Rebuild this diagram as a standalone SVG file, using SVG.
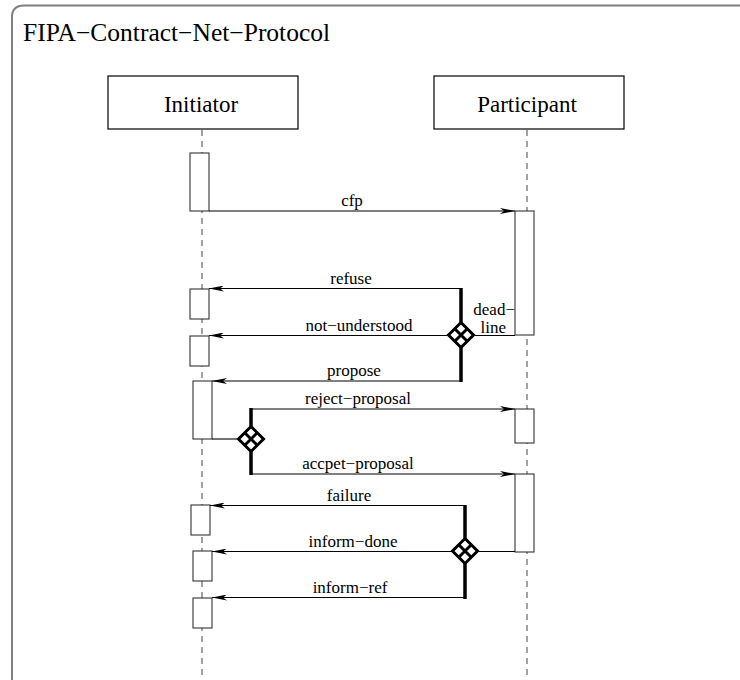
<svg xmlns="http://www.w3.org/2000/svg" width="740" height="680" viewBox="0 0 740 680">
  <style>
    text { font-family: "Liberation Serif", "Times New Roman", serif; fill: #000; }
    .title { font-size: 25.5px; }
    .role { font-size: 23px; text-anchor: middle; }
    .lbl { font-size: 17px; text-anchor: middle; }
    .frame { fill: none; stroke: #808080; stroke-width: 2; }
    .box { fill: #fff; stroke: #000; stroke-width: 1.2; }
    .life { fill: none; stroke: #444; stroke-width: 1; stroke-dasharray: 6 5; }
    .bar { fill: #fff; stroke: #333; stroke-width: 1.1; }
    .msg { fill: none; stroke: #000; stroke-width: 1.1; }
    .arr { fill: none; stroke: #000; stroke-width: 1.1; marker-end: url(#head); }
    .thick { fill: none; stroke: #000; stroke-width: 3.5; }
    .xor { fill: #fff; stroke: #000; stroke-width: 3; stroke-linejoin: miter; }
    .xin { fill: none; stroke: #000; stroke-width: 3; }
  </style>
  <defs>
    <marker id="head" viewBox="0 0 15 6" refX="15" refY="3" markerWidth="15" markerHeight="6" markerUnits="userSpaceOnUse" orient="auto">
      <path d="M0,0 L15,3 L0,6 L4,3 Z" fill="#000"/>
    </marker>
    <!-- XOR connector: diamond split into four -->
    <g id="xorDiamond">
      <path class="xor" d="M0,-12.5 L12.5,0 L0,12.5 L-12.5,0 Z"/>
      <path class="xin" d="M-6.25,-6.25 L6.25,6.25 M6.25,-6.25 L-6.25,6.25"/>
    </g>
  </defs>

  <!-- outer frame -->
  <path class="frame" d="M12,690 L12,17 Q12,5.5 24,5.5 L742,5.5"/>
  <text class="title" x="23" y="41">FIPA−Contract−Net−Protocol</text>

  <!-- lifelines -->
  <g id="lifelines">
    <path class="life" d="M202,130 L202,680"/>
    <path class="life" d="M527,130 L527,680"/>
  </g>

  <g id="initiator">
    <rect class="box" x="108" y="76" width="190" height="53"/>
    <text class="role" x="201" y="112">Initiator</text>
  </g>
  <g id="participant">
    <rect class="box" x="434" y="76" width="190" height="53"/>
    <text class="role" x="527" y="112">Participant</text>
  </g>

  <!-- activation bars -->
  <g id="activations">
    <rect class="bar" x="190" y="153" width="19" height="58"/>
    <rect class="bar" x="515" y="211" width="19" height="124"/>
    <rect class="bar" x="190" y="289" width="19" height="30"/>
    <rect class="bar" x="190" y="336" width="19" height="30"/>
    <rect class="bar" x="193" y="381" width="19" height="58"/>
    <rect class="bar" x="515" y="409" width="19" height="34"/>
    <rect class="bar" x="515" y="474" width="19" height="78"/>
    <rect class="bar" x="191" y="505" width="19" height="30"/>
    <rect class="bar" x="193" y="551" width="19" height="30"/>
    <rect class="bar" x="193" y="598" width="19" height="30"/>
  </g>

  <!-- messages -->
  <g id="connectors">
    <path class="arr" d="M209,211 L515,211"/>

    <path class="thick" d="M461,288 L461,382"/>
    <path class="arr" d="M461,288.5 L209,288.5"/>
    <path class="arr" d="M448,335.5 L209,335.5"/>
    <path class="msg" d="M515,335.5 L474,335.5"/>
    <path class="arr" d="M461,381 L212,381"/>
    <use href="#xorDiamond" x="461" y="335"/>

    <path class="thick" d="M251,408 L251,475"/>
    <path class="msg" d="M212,439 L238,439"/>
    <path class="arr" d="M251,409 L515,409"/>
    <path class="arr" d="M251,474 L515,474"/>
    <use href="#xorDiamond" x="251" y="439"/>

    <path class="thick" d="M465,505 L465,599"/>
    <path class="arr" d="M465,505.5 L210,505.5"/>
    <path class="arr" d="M452,551.5 L212,551.5"/>
    <path class="msg" d="M515,551.5 L478,551.5"/>
    <path class="arr" d="M465,597.5 L212,597.5"/>
    <use href="#xorDiamond" x="465" y="551"/>
  </g>

  <!-- message labels -->
  <g id="labels">
    <text class="lbl" x="352" y="206">cfp</text>
    <text class="lbl" x="351" y="284">refuse</text>
    <text class="lbl" x="359" y="331">not−understood</text>
    <text class="lbl" x="354" y="376">propose</text>
    <text class="lbl" x="358" y="404">reject−proposal</text>
    <text class="lbl" x="358" y="469">accpet−proposal</text>
    <text class="lbl" x="349" y="501">failure</text>
    <text class="lbl" x="353" y="547">inform−done</text>
    <text class="lbl" x="350" y="593">inform−ref</text>
    <text class="lbl" x="515" y="315" style="text-anchor:end">dead−</text>
    <text class="lbl" x="506" y="333" style="text-anchor:end">line</text>
  </g>
</svg>
